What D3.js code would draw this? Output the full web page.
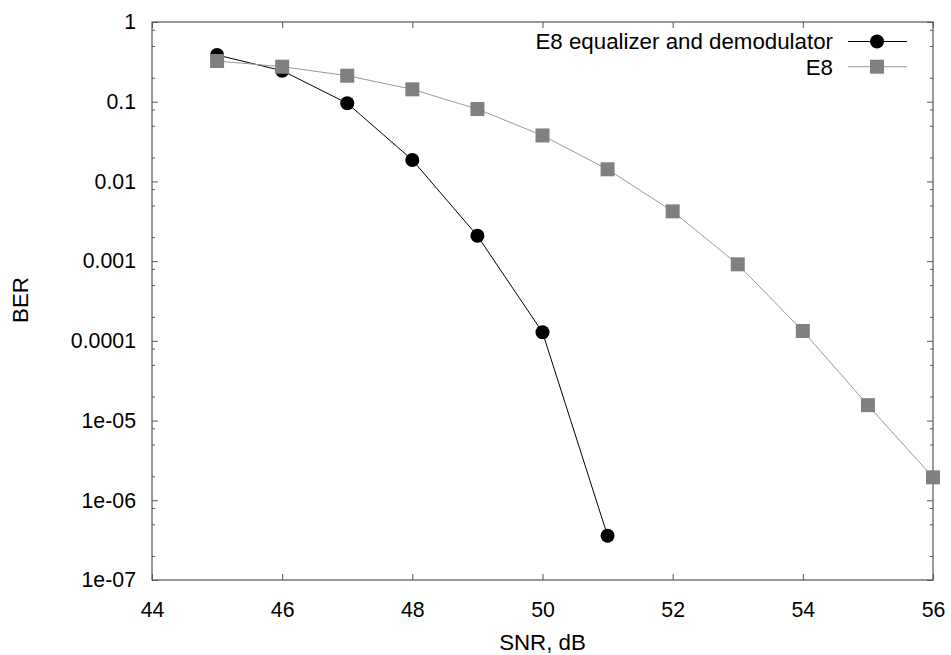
<!DOCTYPE html>
<html>
<head>
<meta charset="utf-8">
<script src="https://cdn.jsdelivr.net/npm/d3@7/dist/d3.min.js"></script>
<style>
  html, body { margin: 0; padding: 0; background: #fff; }
  svg { display: block; font-family: "Liberation Sans", Arial, sans-serif; }
</style>
</head>
<body>
<svg id="chart" width="951" height="655"></svg>
<script>
// ---- data ----
const snrEq = [45, 46, 47, 48, 49, 50, 51];
const berEq = [0.385, 0.245, 0.0955, 0.0186, 0.00208, 0.000128, 3.59e-7];
const snrE8 = [45, 46, 47, 48, 49, 50, 51, 52, 53, 54, 55, 56];
const berE8 = [0.324, 0.275, 0.212, 0.143, 0.0809, 0.0377, 0.0142, 0.00421, 0.000912, 0.000133, 1.56e-5, 1.94e-6];
const seriesNames = ["E8 equalizer and demodulator", "E8"];
const xTicks = [44, 46, 48, 50, 52, 54, 56];
const yTicks = [1, 0.1, 0.01, 0.001, 0.0001, 1e-5, 1e-6, 1e-7];
const yTickLabels = ["1", "0.1", "0.01", "0.001", "0.0001", "1e-05", "1e-06", "1e-07"];
const yMinorMult = [2, 5, 8];
const xLabel = "SNR, dB";
const yLabel = "BER";

// ---- layout ----
const W = 951, H = 655;
const m = { left: 152, top: 22, right: 18, bottom: 75 };
const svg = d3.select("#chart");
const x = d3.scaleLinear().domain([44, 56]).range([m.left, W - m.right]);
const y = d3.scaleLog().domain([1e-7, 1]).range([H - m.bottom, m.top]);

const fontSize = 21.3;
const labelSize = 22.3;
const axisColor = "#555";

// minor ticks
const yMinor = [];
for (let e = -7; e < 0; e++) yMinorMult.forEach(k => yMinor.push(k * Math.pow(10, e)));

function styleAxis(g) {
  g.select(".domain").remove();
  g.selectAll(".tick line").attr("stroke", axisColor).attr("stroke-width", 1);
  g.selectAll(".tick text").attr("fill", "#000").style("font-size", fontSize + "px")
    .style("font-family", "'Liberation Sans', Arial, sans-serif");
}

// bottom axis
svg.append("g").attr("transform", `translate(0,${H - m.bottom})`)
  .call(d3.axisBottom(x).tickValues(xTicks).tickFormat(d3.format("d")).tickSizeInner(-6).tickSizeOuter(0).tickPadding(22))
  .call(styleAxis);
// top axis (ticks only)
svg.append("g").attr("transform", `translate(0,${m.top})`)
  .call(d3.axisTop(x).tickValues(xTicks).tickFormat("").tickSizeInner(-6).tickSizeOuter(0))
  .call(styleAxis);
// left axis major
svg.append("g").attr("transform", `translate(${m.left},0)`)
  .call(d3.axisLeft(y).tickValues(yTicks).tickFormat((d, i) => yTickLabels[i]).tickSizeInner(-6).tickSizeOuter(0).tickPadding(16))
  .call(styleAxis);
// left axis minor
svg.append("g").attr("transform", `translate(${m.left},0)`)
  .call(d3.axisLeft(y).tickValues(yMinor).tickFormat("").tickSizeInner(-3).tickSizeOuter(0))
  .call(styleAxis);
// right axis major + minor
svg.append("g").attr("transform", `translate(${W - m.right},0)`)
  .call(d3.axisRight(y).tickValues(yTicks).tickFormat("").tickSizeInner(-6).tickSizeOuter(0))
  .call(styleAxis);
svg.append("g").attr("transform", `translate(${W - m.right},0)`)
  .call(d3.axisRight(y).tickValues(yMinor).tickFormat("").tickSizeInner(-3).tickSizeOuter(0))
  .call(styleAxis);

// frame
svg.append("rect")
  .attr("x", m.left).attr("y", m.top)
  .attr("width", W - m.left - m.right).attr("height", H - m.top - m.bottom)
  .attr("fill", "none").attr("stroke", axisColor).attr("stroke-width", 1.2);

// axis labels
svg.append("text").attr("x", (m.left + W - m.right) / 2).attr("y", 642).attr("dy", "0.35em")
  .attr("text-anchor", "middle").style("font-size", labelSize + "px").text(xLabel);
svg.append("text").attr("transform", "translate(20,300) rotate(-90)").attr("dy", "0.35em")
  .attr("text-anchor", "middle").style("font-size", labelSize + "px").text(yLabel);

// series
const line = d3.line().x(d => x(d[0])).y(d => y(d[1]));
const eqData = snrEq.map((s, i) => [s, berEq[i]]);
const e8Data = snrE8.map((s, i) => [s, berE8[i]]);

const blackCol = "#000", grayLine = "#999", grayFill = "#808080";

svg.append("path").datum(eqData).attr("d", line).attr("fill", "none").attr("stroke", blackCol).attr("stroke-width", 1);
svg.append("g").selectAll("circle").data(eqData).join("circle")
  .attr("cx", d => x(d[0])).attr("cy", d => y(d[1])).attr("r", 7).attr("fill", blackCol);

svg.append("path").datum(e8Data).attr("d", line).attr("fill", "none").attr("stroke", grayLine).attr("stroke-width", 1);
svg.append("g").selectAll("rect").data(e8Data).join("rect")
  .attr("x", d => x(d[0]) - 7).attr("y", d => y(d[1]) - 7).attr("width", 14).attr("height", 14).attr("fill", grayFill);

// legend
const lg = svg.append("g");
const legY = [41.5, 66.7];
const textRight = 833, lineX0 = 848, lineX1 = 907, markX = 877;
lg.append("text").attr("x", textRight).attr("y", legY[0]).attr("dy", "0.35em").attr("text-anchor", "end")
  .style("font-size", labelSize + "px").text(seriesNames[0]);
lg.append("line").attr("x1", lineX0).attr("x2", lineX1).attr("y1", legY[0]).attr("y2", legY[0]).attr("stroke", blackCol);
lg.append("circle").attr("cx", markX).attr("cy", legY[0]).attr("r", 7).attr("fill", blackCol);
lg.append("text").attr("x", textRight).attr("y", legY[1]).attr("dy", "0.35em").attr("text-anchor", "end")
  .style("font-size", labelSize + "px").text(seriesNames[1]);
lg.append("line").attr("x1", lineX0).attr("x2", lineX1).attr("y1", legY[1]).attr("y2", legY[1]).attr("stroke", grayLine);
lg.append("rect").attr("x", markX - 7).attr("y", legY[1] - 7).attr("width", 14).attr("height", 14).attr("fill", grayFill);
</script>
</body>
</html>
